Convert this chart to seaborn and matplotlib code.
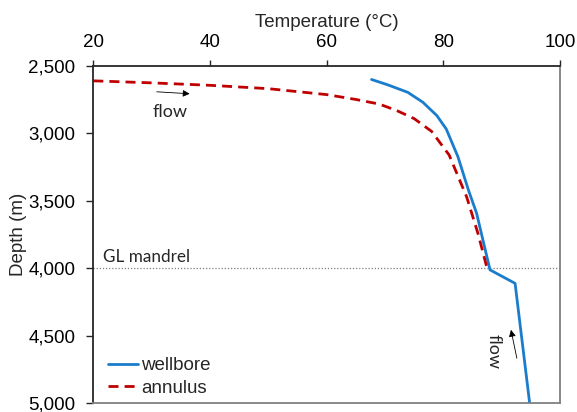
import numpy as np
import pandas as pd
import seaborn as sns
from matplotlib import pyplot as plt

# wellbore temperature profile (deg C vs depth m)
wellbore_temp = [67.7, 70.5, 73.9, 76.5, 78.9, 80.5, 82.5, 84.3, 85.7, 88.0, 92.3, 94.8]
wellbore_depth = [2600, 2640, 2695, 2769, 2868, 2967, 3172, 3419, 3591, 4011, 4111, 5000]

# annulus temperature profile
annulus_temp = [20, 30, 40, 50, 60, 65, 69, 72, 75, 78, 81, 84, 86, 87.5]
annulus_depth = [2610, 2625, 2643, 2668, 2712, 2748, 2782, 2830, 2890, 2985, 3160, 3470, 3750, 4000]

mandrel_depth = 4000

sns.set_style("ticks")
plt.rcParams['font.family'] = ['Liberation Sans', 'DejaVu Sans']

FS = 13.5
fig = plt.figure(figsize=(5.77, 4.12), dpi=100)
ax = fig.add_axes([93.3 / 577, 1 - 403.3 / 412, (560 - 93.3) / 577, (403.3 - 66) / 412])

wb = pd.DataFrame({'T': wellbore_temp, 'D': wellbore_depth})
an = pd.DataFrame({'T': annulus_temp, 'D': annulus_depth})

sns.lineplot(data=wb, x='T', y='D', sort=False, estimator=None, color='#1a7ccc',
             linewidth=2, label='wellbore', ax=ax)
sns.lineplot(data=an, x='T', y='D', sort=False, estimator=None, color='#c00000',
             linewidth=2, linestyle=(0, (3.6, 2.2)), label='annulus', ax=ax)

ax.axhline(mandrel_depth, color='#7f7f7f', linestyle=(0, (1, 1.5)), linewidth=0.9, zorder=0)
ax.text(21.6, 3955, 'GL mandrel', fontsize=12.3, family=['Lato', 'DejaVu Sans'], color='#262626')

# flow arrows
ax.annotate('', xy=(37.0, 2707), xytext=(30.4, 2690),
            arrowprops=dict(arrowstyle='-|>', color='black', lw=0.6, mutation_scale=10))
ax.text(33.1, 2841, 'flow', fontsize=13, family=['Lato', 'DejaVu Sans'], va='center', ha='center')
ax.annotate('', xy=(91.5, 4435), xytext=(92.7, 4686),
            arrowprops=dict(arrowstyle='-|>', color='black', lw=0.6, mutation_scale=10))
ax.text(88.6, 4613, 'flow', fontsize=13, family=['Lato', 'DejaVu Sans'], rotation=270,
        va='center', ha='center')

ax.set_xlim(20, 100)
ax.set_ylim(5000, 2500)
ax.set_xticks([20, 40, 60, 80, 100])
ax.set_yticks([2500, 3000, 3500, 4000, 4500, 5000])
ax.yaxis.set_major_formatter(plt.FuncFormatter(lambda v, p: f'{int(v):,}'))
ax.xaxis.tick_top()
ax.xaxis.set_label_position('top')
ax.tick_params(axis='x', which='both', top=True, bottom=False, direction='out', length=4.5,
               width=1, labelsize=FS, colors='#262626', labelcolor='black', pad=6)
ax.tick_params(axis='y', direction='out', length=5, width=1, labelsize=FS, colors='#262626',
               labelcolor='black', pad=8)
ax.set_xlabel('Temperature (°C)', fontsize=FS, labelpad=5)
ax.set_ylabel('Depth (m)', fontsize=FS, labelpad=1)

for name, s in ax.spines.items():
    s.set_visible(True)
    if name in ('left', 'top'):
        s.set_color('#262626')
        s.set_linewidth(1.3)
    else:
        s.set_color('#808080')
        s.set_linewidth(1.3)

ax.legend(loc='lower left', bbox_to_anchor=(0.018, 0.0), frameon=False, fontsize=FS,
          handlelength=1.6, handletextpad=0.15, labelspacing=0.28, borderpad=0.35,
          borderaxespad=0.0)

fig.savefig('out.png', dpi=100)
